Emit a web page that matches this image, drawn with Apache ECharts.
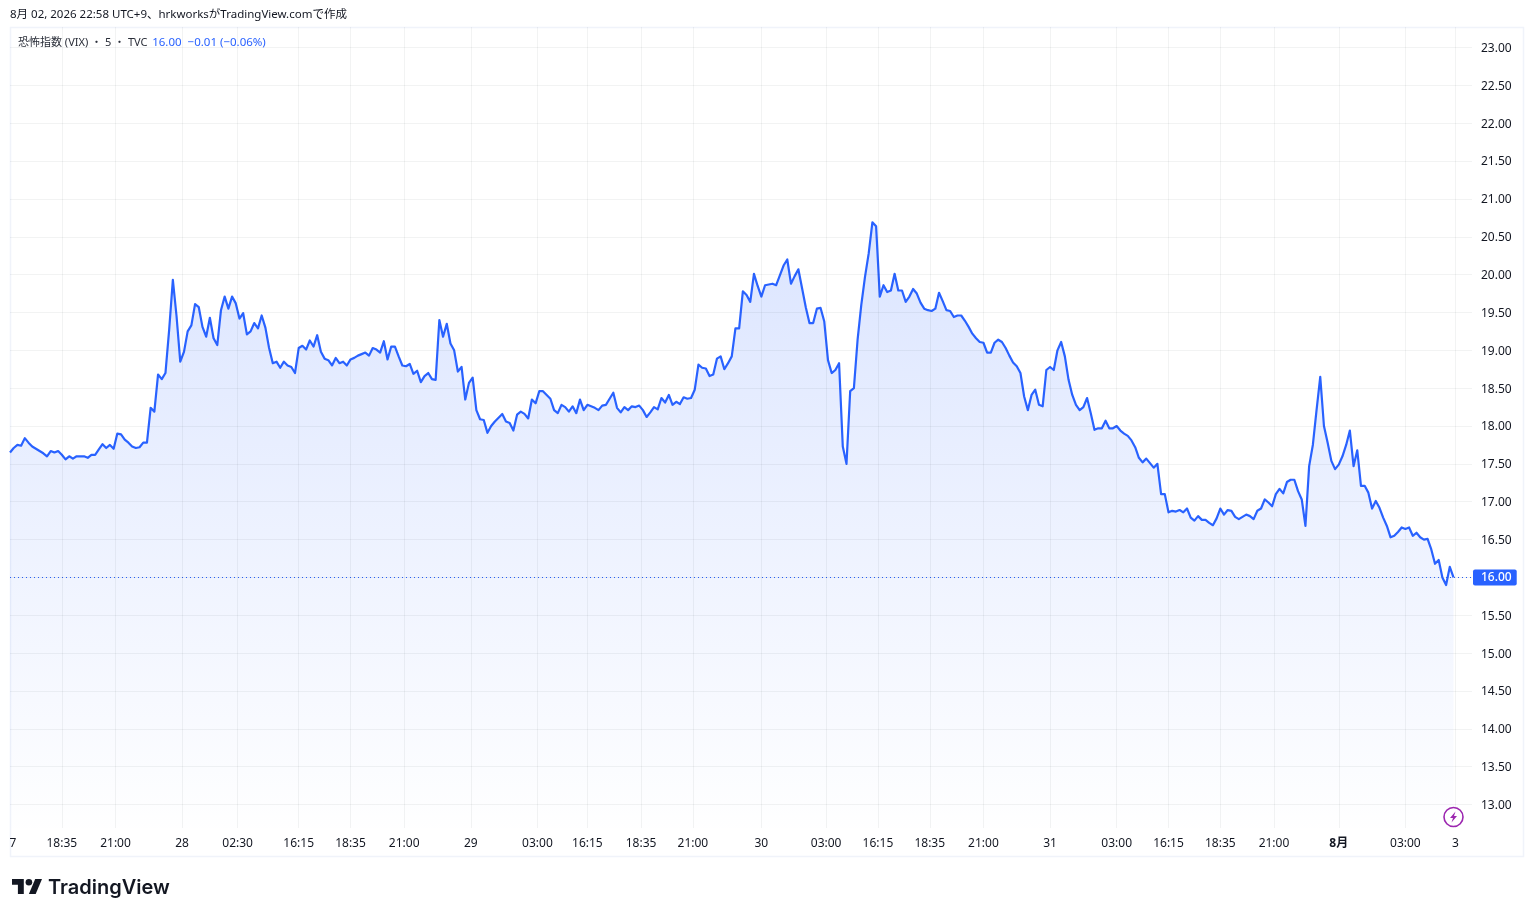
<!DOCTYPE html>
<html><head><meta charset="utf-8"><style>html,body{margin:0;padding:0;background:#fff}#c{width:1534px;height:917px}</style>
<script src="https://cdn.jsdelivr.net/npm/echarts@6/dist/echarts.min.js"></script></head>
<body><div id="c"></div><script>
// VIX close, one reading every second 5-minute bar
const vix = [
17.65,17.71,17.75,17.74,17.84,17.78,17.73,17.70,17.67,17.64,17.60,17.67,17.65,17.67,17.62,17.56,17.60,17.57,17.60,17.60,
17.60,17.58,17.62,17.62,17.69,17.76,17.71,17.75,17.70,17.90,17.89,17.82,17.78,17.73,17.71,17.72,17.78,17.78,18.24,18.19,
18.68,18.62,18.70,19.27,19.93,19.45,18.85,18.98,19.25,19.33,19.61,19.57,19.31,19.18,19.43,19.16,19.07,19.53,19.71,19.55,
19.71,19.62,19.42,19.49,19.21,19.25,19.36,19.29,19.46,19.30,19.03,18.83,18.85,18.77,18.85,18.80,18.78,18.70,19.03,19.06,
19.01,19.13,19.05,19.20,18.98,18.89,18.87,18.80,18.90,18.83,18.85,18.80,18.88,18.90,18.93,
18.95,18.97,18.93,19.03,19.01,18.97,19.12,18.88,19.05,19.05,18.92,18.80,18.79,18.82,18.69,18.73,18.58,18.66,18.70,18.62,
18.61,19.40,19.18,19.35,19.09,19.00,18.72,18.78,18.35,18.57,18.64,18.21,18.09,18.08,17.91,18.00,18.06,18.11,18.16,18.06,
18.04,17.94,18.15,18.19,18.16,18.10,18.35,18.30,18.46,18.46,18.41,18.36,18.21,18.17,18.28,18.25,18.19,18.26,18.17,
18.35,18.21,18.28,18.26,18.24,18.21,18.27,18.28,18.36,18.44,18.24,18.18,18.25,18.21,18.26,18.25,18.27,18.21,18.12,18.18,
18.25,18.22,18.37,18.31,18.41,18.28,18.32,18.29,18.38,18.36,18.37,18.48,18.81,18.77,18.76,18.66,18.68,18.89,
18.92,18.75,18.83,18.92,19.29,19.29,19.78,19.73,19.64,20.01,19.85,19.71,19.86,19.87,19.88,19.86,19.99,20.12,20.20,19.88,
19.98,20.07,19.82,19.57,19.36,19.36,19.55,19.56,19.38,18.87,18.70,18.74,18.83,17.73,17.50,18.46,18.50,19.14,19.60,19.97,
20.28,20.69,20.64,19.71,19.86,19.77,19.79,20.01,19.79,19.79,19.64,19.71,19.81,19.75,19.63,19.55,19.53,19.52,19.55,19.76,
19.65,19.53,19.52,19.44,19.46,19.46,19.39,19.31,19.22,19.16,19.11,19.10,18.97,18.97,19.10,19.14,19.11,19.03,18.93,18.84,
18.79,18.70,18.39,18.21,18.41,18.48,18.28,18.26,18.74,18.78,18.74,19.00,19.11,18.92,18.61,18.41,18.28,18.21,
18.25,18.37,18.17,17.95,17.97,17.97,18.07,17.97,17.97,18.00,17.94,17.90,17.87,17.81,17.72,17.58,17.52,17.57,17.51,17.45,
17.50,17.10,17.10,16.86,16.88,16.87,16.89,16.86,16.91,16.79,16.75,16.81,16.76,16.76,16.72,16.69,16.78,16.91,16.83,16.89,
16.88,16.80,16.77,16.80,16.83,16.81,16.77,16.88,16.91,17.03,16.99,16.94,17.10,17.17,17.11,17.26,17.29,17.29,17.14,17.03,
16.68,17.47,17.75,18.21,18.65,18.00,17.78,17.54,17.43,17.49,17.60,17.75,17.94,17.47,17.68,17.21,17.21,17.12,16.91,17.01,
16.92,16.79,16.68,16.53,16.55,16.60,16.66,16.64,16.66,16.55,16.59,16.53,16.50,16.51,16.37,16.18,16.23,16.00,15.90,16.14,16.00
];
const lastPrice = 16.00;
const barsPerReading = 2;
const xTickBars   = [28,57,93,123,156,184,213,249,285,312,341,369,406,441,469,497,526,562,598,626,654,683,718,754,781];
const xTickLabels = ['18:35','21:00','28','02:30','16:15','18:35','21:00','29','03:00','16:15','18:35','21:00','30','03:00','16:15','18:35','21:00','31','03:00','16:15','18:35','21:00','8月','03:00','3'];
const firstTickBar = 1.6, firstTickLabel = '7';
const xAxisEnd = 790;
const yTicks = [13,13.5,14,14.5,15,15.5,16,16.5,17,17.5,18,18.5,19,19.5,20,20.5,21,21.5,22,22.5,23];
const yMin = 12.69, yMax = 23.271;
const headerText = '8月 02, 2026 22:58 UTC+9、hrkworksがTradingView.comで作成';
const symbolText = '恐怖指数 (VIX) ・ 5 ・ TVC';
const quoteText = '16.00  −0.01 (−0.06%)';

const FONT = '"Noto Sans","Noto Sans CJK JP",sans-serif';
const TEXT = '#131722', BLUE = '#2962FF', GRID = 'rgba(42,46,57,0.06)';
const points = vix.map((v,i)=>[i*barsPerReading,v]);
const allBars = [firstTickBar].concat(xTickBars), allLabels = [firstTickLabel].concat(xTickLabels);
const labelByBar = new Map(allBars.map((b,i)=>[b,allLabels[i]]));
const quiet = {silent:true,symbol:'none',animation:false,label:{show:false}};

const chart = echarts.init(document.getElementById('c'),null,{renderer:'canvas'});
chart.setOption({
  animation:false, backgroundColor:'#fff',
  textStyle:{fontFamily:FONT},
  grid:{left:10,right:62,top:27,bottom:89,containLabel:false},
  title:[
    {text:headerText,left:10,top:9,padding:0,textStyle:{fontFamily:FONT,fontSize:11.5,fontWeight:'normal',color:TEXT}},
    {text:'{a|'+symbolText+'} {b|'+quoteText+'}',left:18,top:34,padding:0,textStyle:{fontWeight:'normal',rich:{
      a:{fontFamily:FONT,fontSize:11,fontWeight:'normal',color:'#2a2e39'},b:{fontFamily:FONT,fontSize:11.5,fontWeight:'normal',color:BLUE}}}},
    {text:'TradingView',left:48,top:878,padding:0,textStyle:{fontFamily:'Inter,sans-serif',fontSize:20,fontWeight:600,color:'#131722'}}
  ],
  xAxis:{type:'value',min:0,max:xAxisEnd,axisLine:{show:false},axisTick:{show:false},splitLine:{show:false},
    axisLabel:{customValues:allBars,margin:10,fontSize:12,color:TEXT,fontFamily:FONT,showMinLabel:true,showMaxLabel:true,hideOverlap:false,
      formatter:v=>{const s=labelByBar.get(v);return s==='8月'?'{b|8月}':s;},
      rich:{b:{fontWeight:'bold',fontSize:12,color:TEXT,fontFamily:FONT}}}},
  yAxis:{type:'value',position:'right',min:yMin,max:yMax,axisLine:{show:false},axisTick:{show:false},splitLine:{show:false},
    axisLabel:{customValues:yTicks,margin:9,fontSize:12,color:TEXT,fontFamily:FONT,formatter:v=>'{v|'+v.toFixed(2)+'}',showMinLabel:true,showMaxLabel:true,hideOverlap:false,
      rich:{v:{padding:[2,0,0,0],fontSize:12,color:TEXT,fontFamily:FONT}}}},
  series:[
    {type:'line',name:'grid',z:1,data:[],silent:true,markLine:Object.assign({},quiet,{
      lineStyle:{color:GRID,width:1,type:'solid'},
      data:yTicks.map(v=>({yAxis:v})).concat(xTickBars.map(b=>({xAxis:b})))})},
    {type:'line',name:'VIX',z:3,data:points,showSymbol:false,symbol:'none',smooth:false,
      lineStyle:{color:BLUE,width:2.2,join:'round'},
      areaStyle:{origin:'start',color:{type:'linear',x:0,y:0,x2:0,y2:1,colorStops:[
        {offset:0,color:'rgba(41,98,255,0.24)'},{offset:1,color:'rgba(41,98,255,0.005)'}]}},
      markLine:{silent:true,symbol:'none',animation:false,z:4,
        lineStyle:{color:BLUE,width:1,type:[1,3]},
        label:{show:true,position:'end',distance:1,formatter:lastPrice.toFixed(2),color:'#fff',fontSize:12,fontFamily:FONT,fontWeight:500,
          backgroundColor:BLUE,borderRadius:2,padding:[2,5,2,8]},
        data:[{yAxis:lastPrice}]}}
  ],
  graphic:[
    {type:'rect',silent:true,z:0,shape:{x:10.5,y:27.5,width:1513,height:829},style:{fill:'none',stroke:'#f0f3fa',lineWidth:1.5}},
    {type:'polygon',silent:true,shape:{points:[[23.8,894],[17.9,894],[17.9,884.8],[12,884.8],[12,879],[23.8,879]]},style:{fill:'#131722'}},
    {type:'polygon',silent:true,shape:{points:[[35.7,894],[28.9,894],[35.2,879],[42,879]]},style:{fill:'#131722'}},
    {type:'circle',silent:true,shape:{cx:28.9,cy:882.3,r:3.3},style:{fill:'#131722'}},
    {type:'circle',silent:true,z:10,shape:{cx:1453.5,cy:817,r:9.5},style:{fill:'#fff',stroke:'#9c27b0',lineWidth:1.6}},
    {type:'polygon',silent:true,z:11,shape:{points:[[1455.5,811.5],[1450,818],[1453,818],[1451.5,822.5],[1457,816],[1454,816]]},style:{fill:'#9c27b0'}}
  ]
});
</script></body></html>
